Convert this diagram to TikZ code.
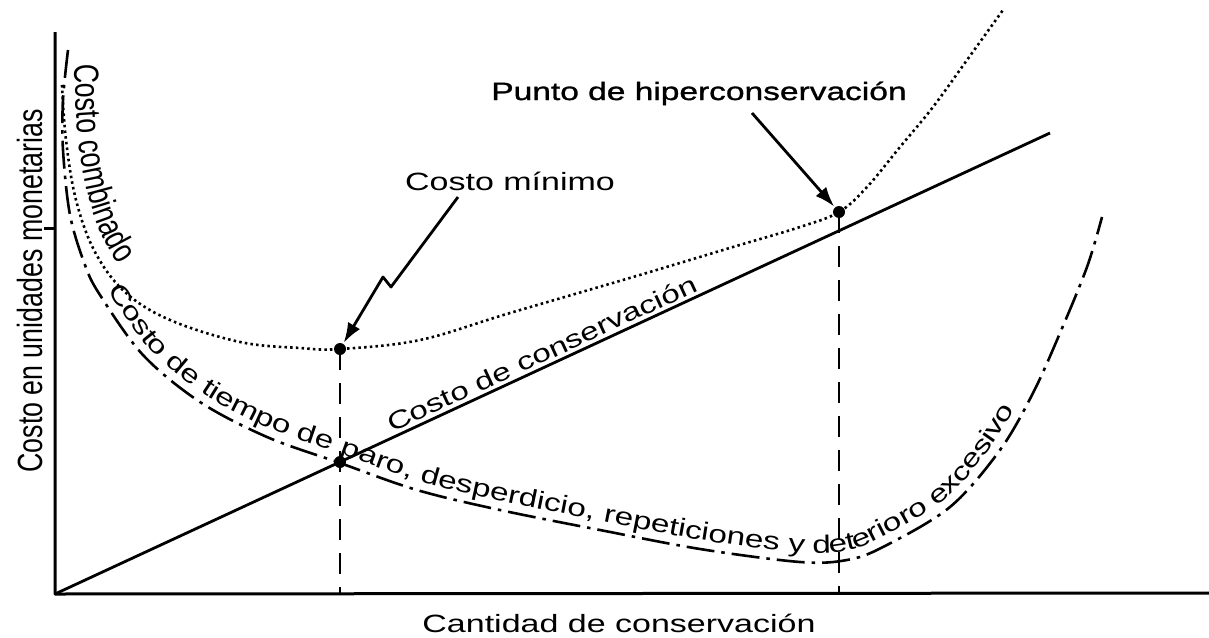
\documentclass[tikz,border=0pt]{standalone}
\usepackage{fontspec}
\setmainfont{Liberation Sans}
\newfontfamily\widefont[FakeStretch=1.36]{Liberation Sans}
\newfontfamily\boldwidefont[FakeStretch=1.34,FakeBold=1.2]{Liberation Sans}
\newfontfamily\curvefont[FakeStretch=1.33]{Liberation Sans}
\newfontfamily\tallfont[FakeStretch=0.765]{Liberation Sans}
\newcommand\curvestyle{\curvefont\fontsize{25}{30}\selectfont}
\newcommand\tallstyle{\tallfont\fontsize{35}{42}\selectfont}
\usetikzlibrary{arrows.meta,decorations.text}
\begin{document}
\begin{tikzpicture}[x=1pt,y=-1pt,line join=round,
  axis/.style={line width=3pt},
  solidline/.style={line width=2.8pt},
  combined/.style={line width=2.6pt,dash pattern=on 2.5pt off 3.2pt},
  downtime/.style={line width=2.6pt,dash pattern=on 28pt off 7pt on 3.5pt off 7pt},
  guide/.style={line width=2.2pt,dash pattern=on 21pt off 13pt},
  dot/.style={circle,fill=black,inner sep=0pt,minimum size=12pt},
  pointer/.style={line width=2.8pt,-{Latex[length=20pt,width=14pt]},shorten >=1pt},
  lbl/.style={font=\widefont\fontsize{25}{30}\selectfont,inner sep=0pt},
  boldlbl/.style={font=\boldwidefont\fontsize{25}{30}\selectfont,inner sep=0pt},
  ylab/.style={font=\tallstyle,inner sep=0pt}]
\useasboundingbox (0,0) rectangle (1209,637);
\fill[white] (0,0) rectangle (1209,637);

% axes
\coordinate (O) at (55,594);
\coordinate (Ytop) at (55,32);
\coordinate (Xend) at (1209,593);
\coordinate (tickL) at (44,228);
\coordinate (tickR) at (55,228);
\draw[axis] (Ytop) -- (O) -- (Xend);
\draw[axis] (tickL) -- (tickR);

% conservation cost line
\coordinate (Cend) at (1050,133);
\draw[solidline] (O) -- (Cend)
  node[pos=0.495,sloped,above=3pt,font=\curvestyle,inner sep=0pt] (lcons) {Costo de conservación};

% points
\node[dot] (pmin) at (340,349) {};
\node[dot] (pint) at (340,462) {};
\node[dot] (phyp) at (839,212) {};

% guides
\coordinate (fmin) at (340,594);
\coordinate (fhyp) at (839,593);
\draw[guide] (pmin.center) -- (fmin);
\draw[guide] (phyp.center) -- (fhyp);

% combined cost (dotted)
\draw[combined] plot[smooth,tension=0.6] coordinates {(62,85) (66,140) (76,200) (95,252) (125,292) (170,320) (240,342) (300,348) (340,349) (420,340) (510,313) (633,277) (733,247) (800,227) (839,212) (867,187) (900,147) (933,107) (967,60) (1003,10)};

% downtime cost (dash-dot)
\draw[downtime] plot[smooth,tension=0.55] coordinates {(68,50) (63,100) (63,150) (70,215) (85,265) (100,295) (143,355) (200,402) (267,437) (340,463) (417,490) (500,510) (600,530) (700,549) (800,562) (847,560) (883,547) (950,507) (1000,450) (1033,393) (1060,333) (1087,267) (1102,217)};

% curved labels
\path[decorate,decoration={text along path,raise=9pt,
  text={|\curvestyle|Costo de tiempo de paro, desperdicio, repeticiones y deterioro excesivo}}]
  plot[smooth,tension=0.55] coordinates {(100,295) (143,355) (200,402) (267,437) (340,463) (417,490) (500,510) (600,530) (700,549) (800,562) (847,560) (883,547) (950,507) (1000,450) (1033,393) (1060,333) (1087,267) (1102,217)};
\path[decorate,decoration={text along path,
  text={|\tallstyle|Costo combinado}}]
  (75,64) .. controls (76,150) and (84,228) .. (131,279);

% labels
\node[boldlbl,anchor=base] (lpunto) at (699,100) {Punto de hiperconservación};
\node[lbl,anchor=base] (lmin) at (510,190) {Costo mínimo};
\node[lbl,anchor=base] (lx) at (619,632) {Cantidad de conservación};
\node[ylab,rotate=90,anchor=base] (ly) at (42,291) {Costo en unidades monetarias};

% pointers
\coordinate (a1s) at (458,197);
\coordinate (a2s) at (752,113);
\draw[pointer] (a1s) -- (391,287) -- (383,277) -- (pmin);
\draw[pointer] (a2s) -- (phyp);
\end{tikzpicture}
\end{document}
